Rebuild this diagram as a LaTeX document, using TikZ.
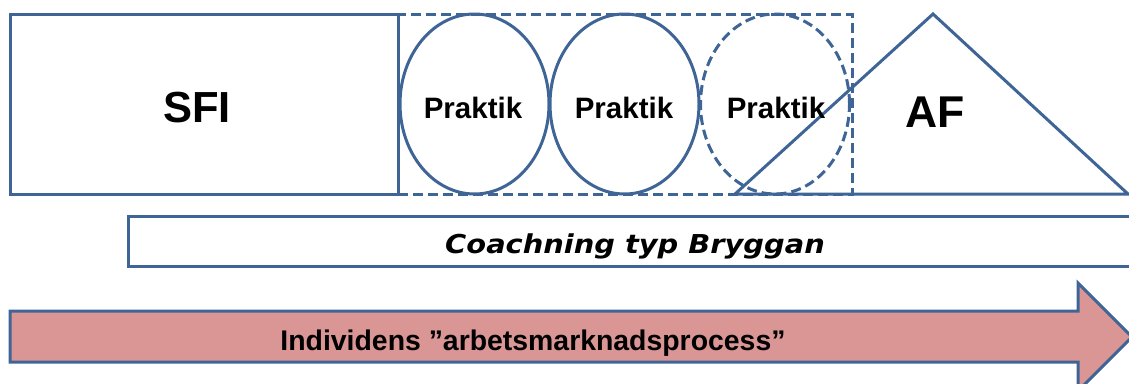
\documentclass[tikz,border=0pt]{standalone}
\usepackage{fontspec}
\setmainfont{Liberation Sans}
\newfontfamily\widesans{DejaVu Sans}
\usetikzlibrary{shapes.geometric}
\definecolor{edge}{RGB}{62,101,150}
\definecolor{proc}{RGB}{217,150,148}
\begin{document}
\begin{tikzpicture}[x=1pt,y=-1pt,
  outline/.style={draw=edge, line width=3pt},
  box/.style={outline, rectangle, inner sep=0pt},
  oval/.style={outline, ellipse, inner sep=0pt, minimum width=149pt, minimum height=180pt},
  dashes/.style={dash pattern=on 10pt off 5pt},
  lbl/.style={anchor=base, inner sep=0pt},
  prak/.style={lbl, font=\bfseries\fontsize{29.5}{31}\selectfont}]
\useasboundingbox (0,0) rectangle (1129,383);
% top row
\node[box, minimum width=388pt, minimum height=180pt] (sfibox) at (204,104) {};
\node[box, dashes, minimum width=454pt, minimum height=180pt] (prbox) at (625,104) {};
\node[oval] (e1) at (474.5,104) {};
\node[oval] (e2) at (624.5,104) {};
\node[oval, dashes] (e3) at (775,104) {};
\coordinate (tl) at (735,194);
\coordinate (tt) at (933,14);
\coordinate (tr) at (1128,194);
\draw[outline, line join=miter] (tl) -- (tt) -- (tr) -- cycle;
\node[lbl, font=\bfseries\fontsize{43.5}{45}\selectfont] (sfi) at (197,122) {SFI};
\node[prak] (p1) at (473,118) {Praktik};
\node[prak] (p2) at (624,118) {Praktik};
\node[prak] (p3) at (776,118) {Praktik};
\node[lbl, font=\bfseries\fontsize{44.5}{46}\selectfont] (af) at (935,127) {AF};
% coaching bar
\node[box, minimum width=1010pt, minimum height=50pt] (coach) at (633,241) {};
\node[lbl, font=\widesans\bfseries\itshape\fontsize{26}{28}\selectfont] (coachtxt) at (635,253) {\scalebox{1.11}[1]{Coachning typ Bryggan}};
% process arrow
\coordinate (a1) at (10,311);
\coordinate (a2) at (1078,311);
\coordinate (a3) at (1078,283);
\coordinate (a4) at (1132,337);
\coordinate (a5) at (1078,391);
\coordinate (a6) at (1078,362);
\coordinate (a7) at (10,362);
\draw[outline, fill=proc, line join=miter] (a1) -- (a2) -- (a3) -- (a4) -- (a5) -- (a6) -- (a7) -- cycle;
\node[lbl, font=\bfseries\fontsize{28.4}{30}\selectfont] (proctxt) at (533,350) {Individens ”arbetsmarknadsprocess”};
\end{tikzpicture}
\end{document}
